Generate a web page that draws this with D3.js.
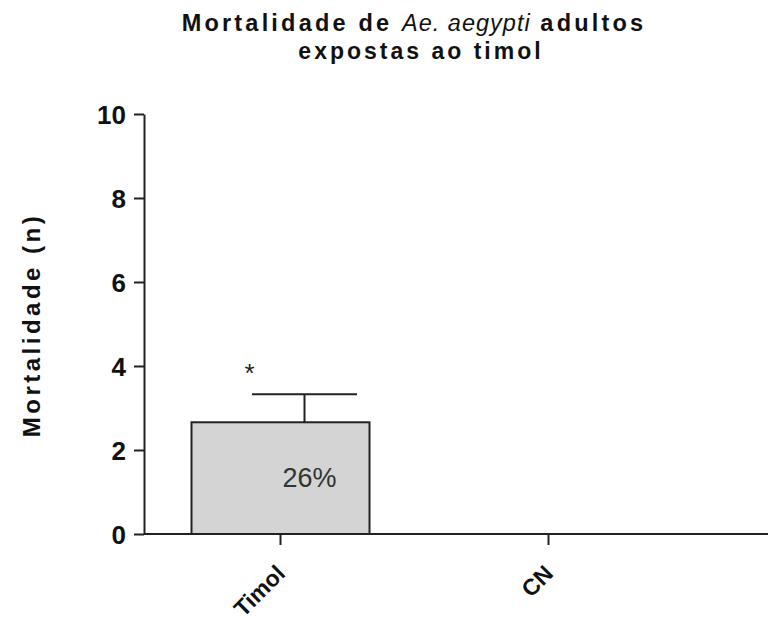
<!DOCTYPE html>
<html><head><meta charset="utf-8">
<script src="https://cdn.jsdelivr.net/npm/d3@7"></script>
<style>body{margin:0;background:#fff}text{font-family:"Liberation Sans",Arial,sans-serif}</style>
</head><body>
<svg id="c" width="768" height="627"></svg>
<script>
const categories = ["Timol", "CN"];
const values = [2.66, 0];
const errors = [0.67, 0];
const labels = ["26%", ""];
const marks = ["*", ""];
const yTicks = [0, 2, 4, 6, 8, 10];

const svg = d3.select("#c");
const x0 = 144, x1 = 768, yTop = 114, yBot = 534;
const y = d3.scaleLinear().domain([0, 10]).range([yBot, yTop]);
const x = d3.scalePoint().domain(categories).range([280.5, 548.5]);
const barW = 178;

// bars
const g = svg.append("g");
g.selectAll("rect").data(categories).join("rect")
  .attr("x", d => x(d) - barW/2)
  .attr("y", (d,i) => y(values[i]))
  .attr("width", barW)
  .attr("height", (d,i) => y(0) - y(values[i]))
  .attr("fill", "#d4d4d4").attr("stroke", "#222").attr("stroke-width", 2)
  .style("display", (d,i) => values[i] > 0 ? null : "none");

// error bars (offset to the right as in reference)
const eOff = 24, capW = 105;
categories.forEach((c, i) => {
  if (values[i] <= 0) return;
  const cx = x(c) + eOff;
  g.append("line").attr("x1", cx).attr("x2", cx).attr("y1", y(values[i])).attr("y2", y(values[i] + errors[i]))
    .attr("stroke", "#222").attr("stroke-width", 2);
  g.append("line").attr("x1", cx - capW/2).attr("x2", cx + capW/2).attr("y1", y(values[i] + errors[i])).attr("y2", y(values[i] + errors[i]))
    .attr("stroke", "#222").attr("stroke-width", 2);
  g.append("text").attr("x", cx + 5).attr("y", y(values[i] / 2) + 9).attr("text-anchor", "middle")
    .attr("font-size", 27).attr("fill", "#333").text(labels[i]);
  g.append("text").attr("x", x(c) - 31).attr("y", y(values[i] + errors[i]) - 12).attr("text-anchor", "middle")
    .attr("font-size", 26).attr("fill", "#222").text(marks[i]);
});

// y axis
const ya = svg.append("g").attr("transform", `translate(${x0},0)`)
  .call(d3.axisLeft(y).tickValues(yTicks).tickSize(10).tickSizeOuter(0).tickPadding(8));
ya.select(".domain").attr("stroke", "#222").attr("stroke-width", 2);
ya.selectAll(".tick line").attr("stroke", "#222").attr("stroke-width", 2);
ya.selectAll(".tick text").attr("font-size", 26).attr("font-weight", "bold").attr("fill", "#111")
  .attr("font-family", "Liberation Sans, Arial, sans-serif").attr("dy", "0.36em");

// x axis
const xa = svg.append("g").attr("transform", `translate(0,${yBot})`);
xa.append("line").attr("x1", x0).attr("x2", x1).attr("stroke", "#222").attr("stroke-width", 2);
xa.selectAll(".tk").data(categories).join("line").attr("class", "tk")
  .attr("x1", d => x(d)).attr("x2", d => x(d)).attr("y1", 0).attr("y2", 11)
  .attr("stroke", "#222").attr("stroke-width", 2);
xa.selectAll(".tl").data(categories).join("text").attr("class", "tl")
  .attr("transform", d => `translate(${x(d) + 6},${41}) rotate(-45)`)
  .attr("text-anchor", "end").attr("font-size", 23).attr("font-weight", "bold").attr("fill", "#111")
  .text(d => d);

// y label
svg.append("text").attr("transform", "translate(40,325) rotate(-90)").attr("text-anchor", "middle")
  .attr("font-size", 24).attr("font-weight", "bold").attr("letter-spacing", 3.5).attr("fill", "#111")
  .text("Mortalidade (n)");

// title
const t = svg.append("text").attr("x", 414).attr("y", 31).attr("text-anchor", "middle")
  .attr("font-size", 23.5).attr("font-weight", "bold").attr("letter-spacing", 3.2).attr("fill", "#111");
t.append("tspan").text("Mortalidade de ");
t.append("tspan").attr("font-style", "italic").attr("font-weight", "normal").attr("letter-spacing", 1).text("Ae. aegypti");
t.append("tspan").text(" adultos");
svg.append("text").attr("x", 421).attr("y", 59).attr("text-anchor", "middle")
  .attr("font-size", 23).attr("font-weight", "bold").attr("letter-spacing", 3).attr("fill", "#111")
  .text("expostas ao timol");
</script>
</body></html>
